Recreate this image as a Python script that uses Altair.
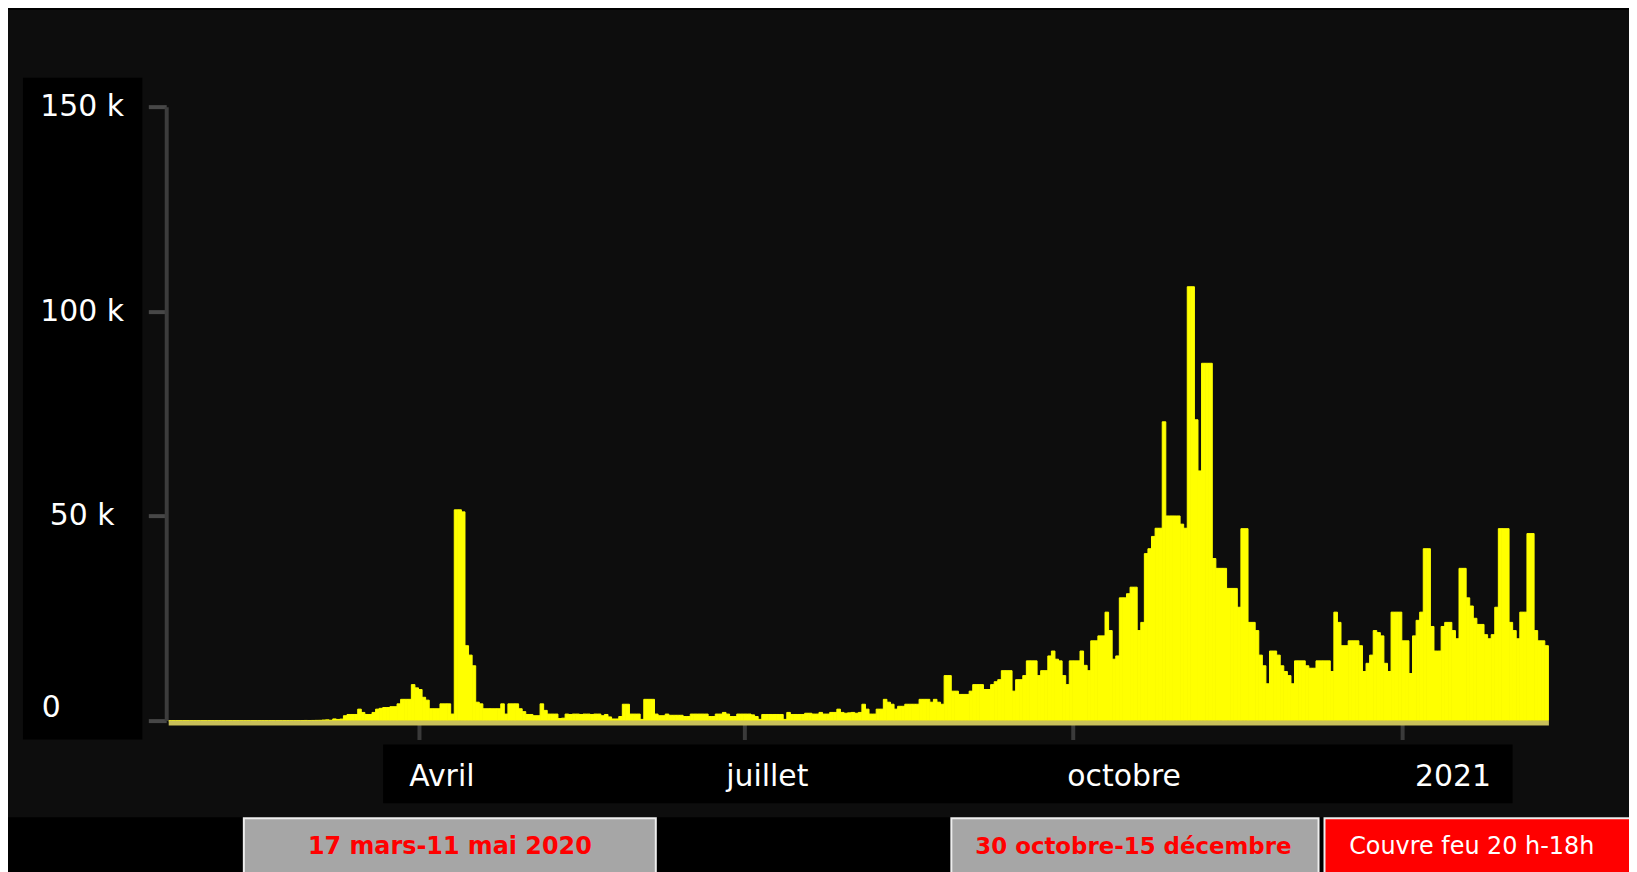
import altair as alt
import pandas as pd

# Daily new cases, one value per day from 22 Jan 2020 to 10 Feb 2021
jan_2020 = [0, 0, 3, 0, 0, 0, 1, 0, 1, 0]  # from 22 Jan
feb_2020 = [0, 0, 0, 0, 0, 0, 5, 0, 0, 0, 0, 0, 0, 0, 0, 1, 0, 0, 0, 0,
            0, 0, 0, 0, 2, 4, 18, 19, 43]
mar_2020 = [30, 43, 61, 73, 138, 190, 93, 410, 286, 372,
            1200, 1500, 1500, 1500, 2800, 2000, 1500, 1500, 2000, 2800,
            3000, 3200, 3200, 3400, 3400, 4100, 5200, 5200, 5200, 8800, 8000]
apr_2020 = [7600, 5700, 5000, 2900, 2900, 2900, 4100, 4100, 4100, 1600,
            51500, 51500, 51000, 18300, 16000, 13400, 4500, 4100, 2900, 2900,
            2900, 2900, 2900, 4100, 1600, 4100, 4100, 4100, 2900, 2200]
may_2020 = [1500, 1500, 1200, 1200, 4100, 2500, 1600, 1600, 1600, 500,
            600, 1600, 1500, 1600, 1600, 1500, 1600, 1600, 1500, 1600,
            1600, 1200, 1500, 900, 400, 400, 1000, 4000, 4000, 1600, 1600]
jun_2020 = [1600, 300, 5200, 5200, 5200, 1600, 1200, 1200, 1600, 1300,
            1300, 1300, 1300, 1000, 1000, 1600, 1600, 1600, 1600, 1600,
            1000, 1000, 1600, 1600, 2000, 1600, 1000, 1000, 1600, 1600]
jul_2020 = [1600, 1600, 1400, 1000, 300, 1500, 1500, 1500, 1500, 1500,
            1500, 300, 2000, 1500, 1500, 1500, 1500, 1800, 1800, 1600,
            1600, 2000, 1600, 1600, 2000, 2000, 2800, 2000, 1800, 1900, 2000]
aug_2020 = [1800, 2000, 4000, 2800, 1600, 1600, 2800, 2800, 5200, 4500,
            4000, 2800, 3500, 3500, 4000, 4000, 4000, 4000, 5200, 5200,
            5200, 4500, 5200, 4500, 4000, 11000, 11000, 7200, 7200, 6400, 6400]
sep_2020 = [6400, 7200, 8800, 8800, 8800, 7600, 7600, 8800, 9500, 10000,
            12200, 12200, 12200, 7200, 10000, 10000, 11000, 14600, 14600, 14600,
            11000, 12200, 12200, 15800, 17000, 15000, 14600, 11000, 8800, 14600]
oct_2020 = [14600, 14600, 17000, 13500, 12200, 19500, 19500, 20700, 20700, 26500,
            22000, 15000, 15800, 30000, 30000, 31000, 32600, 32600, 22000, 24000,
            40800, 42000, 45000, 47000, 47000, 73000, 50000, 50000, 50000, 50000, 48000]
nov_2020 = [47000, 106000, 106000, 73500, 61000, 87300, 87300, 87300, 39600, 37200,
            37200, 37200, 32300, 32300, 32300, 27700, 46900, 46900, 24000, 24000,
            22000, 16000, 13400, 9000, 17000, 17000, 16000, 13400, 12000, 11000]
dec_2020 = [9000, 14600, 14600, 14600, 13400, 12800, 12800, 14600, 14600, 14600,
            14600, 12000, 26500, 24000, 18300, 18300, 19500, 19500, 19500, 18300,
            12000, 14000, 16000, 22000, 21500, 20700, 14000, 12000, 26500, 26500, 26500]
jan_2021 = [19500, 19500, 11500, 20700, 24500, 26500, 42000, 42000, 23000, 17000,
            17000, 23000, 24000, 24000, 22000, 20000, 37200, 37200, 30000, 28000,
            25000, 23500, 23500, 21000, 20000, 21000, 27700, 46900, 46900, 46900, 24000]
feb_2021 = [22000, 20000, 26500, 26500, 45700, 45700, 22000, 19500, 19500, 18300]

all_values = (jan_2020 + feb_2020 + mar_2020 + apr_2020 + may_2020 + jun_2020 +
              jul_2020 + aug_2020 + sep_2020 + oct_2020 + nov_2020 + dec_2020 +
              jan_2021 + feb_2021)

y_ticks = [0, 50000, 100000, 150000]
month_labels = ["Avril", "juillet", "octobre", "2021"]
box_labels = ["17 mars-11 mai 2020", "30 octobre-15 décembre", "Couvre feu 20 h-18h"]

dates = pd.date_range("2020-01-22", periods=len(all_values), freq="D")
df = pd.DataFrame({
    "date": dates.strftime("%Y-%m-%d"),
    "end": (dates + pd.Timedelta(days=1)).strftime("%Y-%m-%d"),
    "cases": all_values,
})

FONT = "DejaVu Sans"
one = alt.Data(values=[{}])

x_axis = alt.Axis(
    values=[alt.DateTime(year=2020, month=4, date=1, utc=True),
            alt.DateTime(year=2020, month=7, date=1, utc=True),
            alt.DateTime(year=2020, month=10, date=1, utc=True),
            alt.DateTime(year=2021, month=1, date=1, utc=True)],
    labelExpr=("utcmonth(datum.value)==3 ? '%s' : utcmonth(datum.value)==6 ? '%s' : "
               "utcmonth(datum.value)==9 ? '%s' : '%s'") % tuple(month_labels),
    title=None, grid=False,
    domainColor="#c9c05a", domainWidth=5, offset=2,
    tickColor="#3a3a3a", tickWidth=4, tickSize=17,
    labelColor="#ffffff", labelFont=FONT, labelFontSize=30,
    labelPadding=37, labelBaseline="middle", labelAlign="center",
    labelOffset={"condition": {"test": "utcmonth(datum.value)==9 || utcmonth(datum.value)==0",
                               "value": 51}, "value": 23},
    labelFlush=False, labelOverlap=False, labelBound=False, zindex=1,
)

y_axis = alt.Axis(
    values=y_ticks,
    labelExpr="datum.value == 0 ? '0' : format(datum.value/1000, 'd') + ' k'",
    title=None, grid=False,
    domainColor="#3c3c3c", domainWidth=4, offset=2,
    tickColor="#474747", tickWidth=4, tickSize=18,
    labelColor="#ffffff", labelFont=FONT, labelFontSize=30,
    labelAlign="center", labelBaseline="middle",
    labelPadding={"condition": {"test": "datum.value == 0", "value": 98}, "value": 67},
    labelOffset={"condition": {"test": "datum.value == 0", "value": -13}, "value": 0},
    labelFlush=False, labelOverlap=False, labelBound=False, zindex=1,
)

panel = alt.Chart(one).mark_rect(color="#0d0d0d").encode(
    x=alt.value(-161), x2=alt.value(1468), y=alt.value(-97), y2=alt.value(714))
ybox = alt.Chart(one).mark_rect(color="#000000").encode(
    x=alt.value(-146), x2=alt.value(-26), y=alt.value(-29), y2=alt.value(636))
xbox = alt.Chart(one).mark_rect(color="#000000").encode(
    x=alt.value(216), x2=alt.value(1351), y=alt.value(641), y2=alt.value(700))
box1 = alt.Chart(one).mark_rect(fill="#a6a6a6", stroke="#eeeeee", strokeWidth=2).encode(
    x=alt.value(76), x2=alt.value(490), y=alt.value(715), y2=alt.value(780))
box2 = alt.Chart(one).mark_rect(fill="#a6a6a6", stroke="#eeeeee", strokeWidth=2).encode(
    x=alt.value(787), x2=alt.value(1156), y=alt.value(715), y2=alt.value(780))
box3 = alt.Chart(one).mark_rect(fill="#ff0000", stroke="#eeeeee", strokeWidth=2).encode(
    x=alt.value(1162), x2=alt.value(1480), y=alt.value(715), y2=alt.value(780))

bars = alt.Chart(df).mark_bar(color="#ffff00", stroke="#ffff00", strokeWidth=1).encode(
    x=alt.X("date:T",
            scale=alt.Scale(type="utc", nice=False,
                            domain=[alt.DateTime(year=2020, month=1, date=22, utc=True),
                                    alt.DateTime(year=2021, month=2, date=11, utc=True)]),
            axis=x_axis),
    x2="end:T",
    y=alt.Y("cases:Q", scale=alt.Scale(domain=[0, 150000], nice=False), axis=y_axis),
    y2=alt.datum(0),
)

t1 = alt.Chart(one).mark_text(text=box_labels[0], font=FONT, fontSize=24, fontWeight="bold",
                              color="#ff0000", align="center", baseline="middle").encode(
    x=alt.value(283), y=alt.value(744))
t2 = alt.Chart(one).mark_text(text=box_labels[1], font=FONT, fontSize=23, fontWeight="bold",
                              color="#ff0000", align="center", baseline="middle").encode(
    x=alt.value(970), y=alt.value(744))
t3 = alt.Chart(one).mark_text(text=box_labels[2], font=FONT, fontSize=24,
                              color="#ffffff", align="center", baseline="middle").encode(
    x=alt.value(1310), y=alt.value(744))

chart = alt.layer(panel, ybox, xbox, box1, box2, box3, bars, t1, t2, t3).properties(
    width=1387, height=617,
    padding={"left": 161, "top": 97, "right": 81, "bottom": 150},
    autosize=alt.AutoSizeParams(type="none"),
    background="#000000",
    usermeta={"embedOptions": {"defaultStyle": "body{background:#000000;overflow:hidden;}"}},
).configure_view(stroke=None)

chart.save("out.html", embed_options={"renderer": "svg", "actions": False})
